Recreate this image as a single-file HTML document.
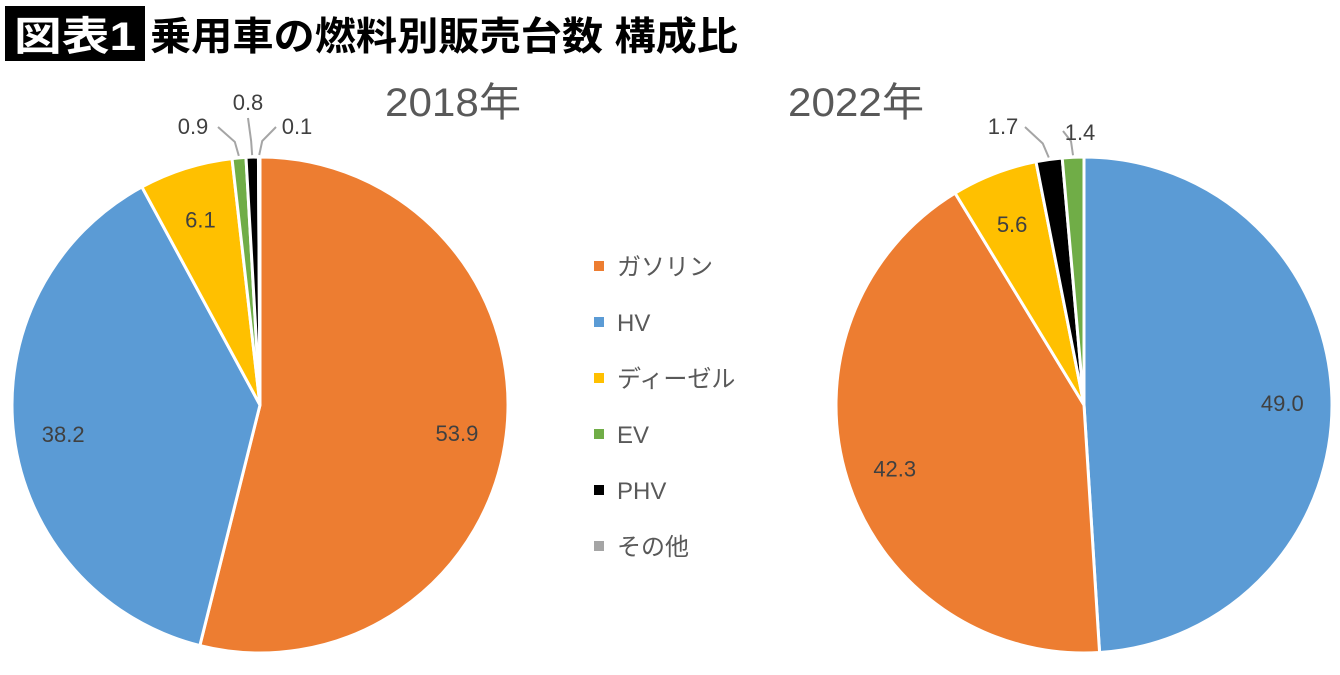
<!DOCTYPE html>
<html><head><meta charset="utf-8"><style>
body{margin:0;background:#fff;width:1340px;height:670px;overflow:hidden;font-family:"Liberation Sans","Noto Sans CJK JP",sans-serif}
</style></head><body>
<svg id="c" width="1340" height="670" xmlns="http://www.w3.org/2000/svg">
<rect x="5" y="6" width="140" height="55" fill="#000"/>
<text x="14" y="50" font-size="40" font-weight="bold" fill="#fff" textLength="122" lengthAdjust="spacingAndGlyphs" font-family="Liberation Sans,Noto Sans CJK JP,sans-serif">図表1</text>
<text x="150" y="50" font-size="39" font-weight="bold" fill="#000" textLength="588" lengthAdjust="spacingAndGlyphs" font-family="Liberation Sans,Noto Sans CJK JP,sans-serif">乗用車の燃料別販売台数 構成比</text>
<text x="385" y="116" font-size="40" fill="#595959" textLength="136" lengthAdjust="spacingAndGlyphs" font-family="Liberation Sans,Noto Sans CJK JP,sans-serif">2018年</text>
<text x="788" y="116" font-size="40" fill="#595959" textLength="136" lengthAdjust="spacingAndGlyphs" font-family="Liberation Sans,Noto Sans CJK JP,sans-serif">2022年</text>
</svg>
<script>
const categories=["ガソリン","HV","ディーゼル","EV","PHV","その他"];
const colors=["#ED7D31","#5B9BD5","#FFC000","#70AD47","#000000","#A5A5A5"];
const cats2018=["ガソリン","HV","ディーゼル","EV","PHV","その他"];
const vals2018=[53.9,38.2,6.1,0.9,0.8,0.1];
const cats2022=["HV","ガソリン","ディーゼル","PHV","EV"];
const vals2022=[49.0,42.3,5.6,1.7,1.4];
const svg=document.getElementById('c');const NS="http://www.w3.org/2000/svg";
function mk(t,a){const e=document.createElementNS(NS,t);for(const k in a)e.setAttribute(k,a[k]);svg.appendChild(e);return e;}
function pt(cx,cy,r,a){return [cx+r*Math.sin(a),cy-r*Math.cos(a)];}
function pie(cx,cy,r,cats,vals,key,outs){
 const tot=vals.reduce((a,b)=>a+b,0);let a0=0;let oi=0;
 vals.forEach((v,i)=>{
  const a1=a0+v/tot*2*Math.PI;const [x0,y0]=pt(cx,cy,r,a0),[x1,y1]=pt(cx,cy,r,a1);
  const p=mk('path',{d:`M${cx},${cy}L${x0},${y0}A${r},${r} 0 ${a1-a0>Math.PI?1:0} 1 ${x1},${y1}Z`,fill:colors[categories.indexOf(cats[i])],stroke:'#fff','stroke-width':3});
  
  
  const m=(a0+a1)/2;const s=v.toFixed(1);
  if(v>=3){const [lx,ly]=pt(cx,cy,r*0.8,m);
   const t=mk('text',{x:lx,y:ly+12,'font-size':22,fill:'#404040','text-anchor':'middle'});t.textContent=s;
   
   }
  else{const o=outs[oi++];const [ex,ey]=pt(cx,cy,r+2,m);
   const l=mk('polyline',{points:`${ex},${ey} ${ex+o[2]},${ey-14} ${o[4]},${o[5]}`,fill:'none',stroke:'#a5a5a5','stroke-width':2});
   
   
   const t=mk('text',{x:o[0],y:o[1],'font-size':22,fill:'#404040','text-anchor':'middle'});t.textContent=s;
   
   }
  a0=a1;});
}
pie(260,405,248,cats2018,vals2018,'2018',[[193,134,-4,0,218,127],[248,110,-1,0,248,118],[297,134,3,0,276,127]]);
pie(1084,405,248,cats2022,vals2022,'2022',[[1003,134,-6,0,1025,127],[1080,140,-2,0,1063,131]]);
categories.forEach((c,i)=>{const y=273+i*56;
 const r=mk('rect',{x:594,y:y-12,width:10,height:10,fill:colors[i]});
 
 
 const t=mk('text',{x:617,y:y+2,'font-size':24,fill:'#595959'});t.textContent=c;
 
 });
</script>
</body></html>
